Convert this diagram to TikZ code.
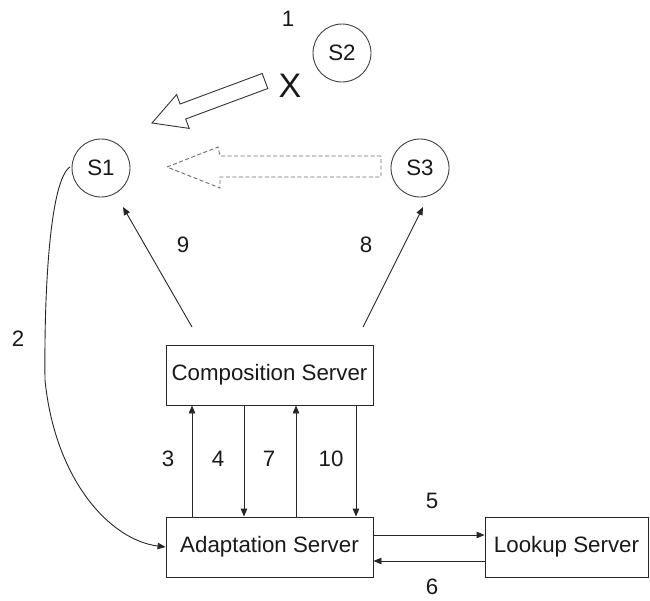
\documentclass[tikz,border=0pt]{standalone}
\usepackage{fontspec}
\setmainfont{Liberation Sans}
\usetikzlibrary{arrows.meta,calc}

\begin{document}
\begin{tikzpicture}[x=1pt,y=-1pt,
    line width=0.9pt,
    every node/.style={font=\fontsize{22.3}{24}\selectfont, text=black!90},
    svc/.style={circle, draw=black!75, minimum size=58pt, inner sep=0pt},
    server/.style={draw=black!85, minimum width=207pt, minimum height=60pt, inner sep=0pt},
    link/.style={draw=black!85, -{Triangle[length=8pt,width=6.5pt]}},
    num/.style={inner sep=0pt},
    bigarrow/.style={draw=black!80, fill=white, line width=0.9pt, line join=miter},
    ghostarrow/.style={draw=black!58, line width=0.9pt, dash pattern=on 4pt off 2.5pt}
  ]
  \useasboundingbox (0,0) rectangle (650,600);

  % services
  \node[svc] (s1) at (101,168) {S1};
  \node[svc] (s2) at (342,53) {S2};
  \node[svc] (s3) at (420,168) {S3};

  % servers
  \node[server] (comp)  at (269.5,375) {Composition Server};
  \node[server] (adapt) at (269.5,547) {Adaptation Server};
  \node[draw=black!85, minimum width=163pt, minimum height=60pt, inner sep=0pt]
       (look) at (566.5,547) {Lookup Server};

  % failed hand-over from S2 (solid hollow arrow)
  \draw[bigarrow] (262.2,73.5) -- (180.1,104.0) -- (176.6,94.6) -- (152,123)
        -- (189.2,128.4) -- (185.7,119.0) -- (267.8,88.5) -- cycle;
  \node[num, font=\fontsize{34}{36}\selectfont] (x) at (290,86) {X};
  \node[num] (n1) at (288,19) {1};

  % planned hand-over from S3 (dashed hollow arrow)
  \draw[ghostarrow] (381,156) -- (220,156) -- (218,147) -- (167,167)
        -- (220,188) -- (220,177) -- (381,177) -- cycle;

  % 2: S1 to the adaptation server
  \coordinate (c2a) at (70,167);
  \draw[link] (c2a) .. controls (50,180) and (44,290) .. (45,380)
        .. controls (55,480) and (110,540) .. (adapt.west);
  \node[num] (n2) at (18,339) {2};

  % 8 and 9: composition server to S3 and S1
  \coordinate (t9) at (192,327);
  \coordinate (h9) at (123,207);
  \coordinate (t8) at (363,327);
  \coordinate (h8) at (423,207);
  \draw[link] (t9) -- (h9);
  \draw[link] (t8) -- (h8);
  \node[num] (n9) at (183,245) {9};
  \node[num] (n8) at (366,245) {8};

  % 3, 4, 7, 10: between adaptation and composition servers
  \coordinate (x3) at (192,0);
  \coordinate (x4) at (244,0);
  \coordinate (x7) at (296,0);
  \coordinate (x10) at (356,0);
  \draw[link] (adapt.north -| x3) -- (comp.south -| x3);
  \draw[link] (comp.south -| x4) -- (adapt.north -| x4);
  \draw[link] (adapt.north -| x7) -- (comp.south -| x7);
  \draw[link] (comp.south -| x10) -- (adapt.north -| x10);
  \node[num] (n3) at (168,459) {3};
  \node[num] (n4) at (218,459) {4};
  \node[num] (n7) at (269,459) {7};
  \node[num] (n10) at (331,459) {10};

  % 5 and 6: adaptation server and lookup server
  \draw[link] ($(adapt.east)+(0,-12)$) -- ($(look.west)+(0,-12)$);
  \draw[link] ($(look.west)+(0,14)$) -- ($(adapt.east)+(0,14)$);
  \node[num] (n5) at (432,501) {5};
  \node[num] (n6) at (432,587) {6};
\end{tikzpicture}
\end{document}
